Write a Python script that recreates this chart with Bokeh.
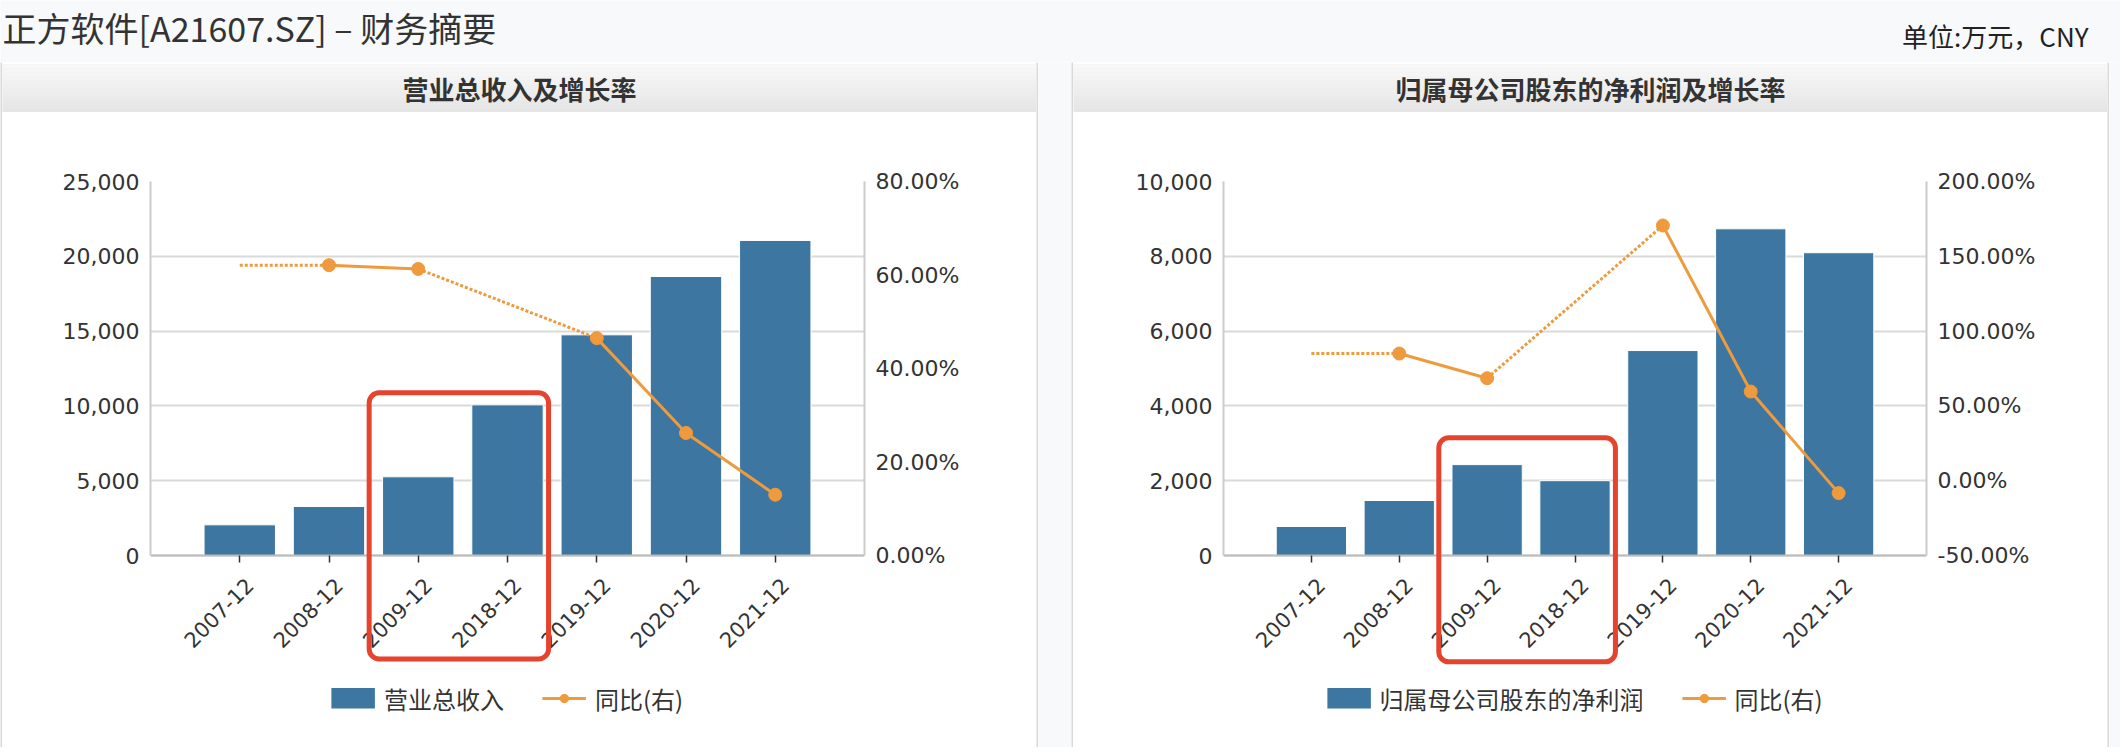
import math
from bokeh.plotting import figure
from bokeh.models import (Range1d, LinearAxis, FixedTicker, NumeralTickFormatter,
                          PrintfTickFormatter, Legend, LegendItem, Label, BoxAnnotation,
                          ColumnDataSource)
from bokeh.layouts import column, row
from bokeh.embed import file_html
from bokeh.resources import INLINE

# ---------------- data ----------------
page_title = "正方软件[A21607.SZ] – 财务摘要"
unit_text = "单位:万元，CNY"
periods = ["2007-12", "2008-12", "2009-12", "2018-12", "2019-12", "2020-12", "2021-12"]

revenue_title = "营业总收入及增长率"
revenue_name = "营业总收入"
revenue = [2050, 3275, 5260, 10070, 14750, 18650, 21060]
revenue_yoy = [None, 62.1, 61.3, None, 46.5, 26.2, 13.0]

profit_title = "归属母公司股东的净利润及增长率"
profit_name = "归属母公司股东的净利润"
profit = [775, 1470, 2430, 2000, 5480, 8735, 8095]
profit_yoy = [None, 85.0, 68.5, None, 170.6, 59.6, -8.3]

yoy_name = "同比(右)"
highlight = ["2009-12", "2018-12"]

# ---------------- style ----------------
PAGE_BG = "#f8f9fb"
BORDER = "#d9d9d9"
HEAD_TOP = (248, 248, 248)
HEAD_BOTTOM = (229, 229, 229)
BAR = "#3d76a1"
ORANGE = "#ee9a3d"
RED = "#e5432d"
TXT = "#333333"
AXFONT = "DejaVu Sans"
CJK = "Noto Sans CJK SC"
PANEL_W = 1034
HEAD_H = 48
TOP_H = 62
MB_TOP = 67
ZERO_H = 374      # px between the top gridline and the zero line
EXT = 113         # px of plot area kept below the zero line for the tick labels
CHART_H = MB_TOP + ZERO_H + EXT
LEG_H = 60
LEG_PAD = 17
PANEL_H = 2 + HEAD_H + 2 + CHART_H + LEG_H + LEG_PAD + 2
LABEL_SHIFT = 0.11  # category fraction the rotated tick labels sit right of their tick


def base_fig(w, h, color, **kw):
    f = figure(width=w, height=h, x_range=Range1d(0, 1), y_range=Range1d(0, 1),
               output_backend="svg", toolbar_location=None, tools="", min_border=0,
               x_axis_location=None, y_axis_location=None,
               background_fill_color=color, border_fill_color=color,
               outline_line_color=None, **kw)
    f.grid.visible = False
    return f


def make_header(text):
    mid = "#%02x%02x%02x" % tuple((a + b) // 2 for a, b in zip(HEAD_TOP, HEAD_BOTTOM))
    h = base_fig(PANEL_W, HEAD_H, mid)
    h.x_range = Range1d(0, PANEL_W)
    h.y_range = Range1d(0, HEAD_H)
    bands = 12
    for k in range(bands):
        t = k / (bands - 1)
        c = tuple(round(a + (b - a) * t) for a, b in zip(HEAD_TOP, HEAD_BOTTOM))
        h.add_layout(BoxAnnotation(top=HEAD_H - k * HEAD_H / bands,
                                   bottom=HEAD_H - (k + 1) * HEAD_H / bands,
                                   fill_color="#%02x%02x%02x" % c, fill_alpha=1,
                                   line_color=None, level="underlay"))
    h.add_layout(Label(x=PANEL_W / 2, y=HEAD_H / 2, text=text, text_align="center",
                       text_baseline="middle", text_font=CJK, text_font_size="26px",
                       text_font_style="bold", text_color=TXT))
    return row(h)


def yoy_segments(yoy):
    valid = [i for i, v in enumerate(yoy) if v is not None]
    sx, sy, dx, dy = [], [], [], []
    if valid[0] > 0:
        dx.append([valid[0] - 1, valid[0]])
        dy.append([yoy[valid[0]], yoy[valid[0]]])
    for a, b in zip(valid[:-1], valid[1:]):
        if b == a + 1:
            sx.append([a, b]); sy.append([yoy[a], yoy[b]])
        else:
            dx.append([a, b]); dy.append([yoy[a], yoy[b]])
    return valid, sx, sy, dx, dy


def make_chart(bars, yoy, y_end, y_step, r_start, r_end, r_step, lb, rb, box_top, box_bottom):
    n = len(periods)
    idx = list(range(n))
    y_start = -y_end * EXT / ZERO_H
    r_low = r_start - (r_end - r_start) * EXT / ZERO_H
    p = figure(width=PANEL_W, height=CHART_H, x_range=Range1d(-1, n),
               y_range=Range1d(y_start, y_end),
               output_backend="svg", toolbar_location=None, tools="",
               min_border_left=lb, min_border_right=rb, min_border_top=MB_TOP,
               min_border_bottom=0,
               background_fill_color="white", border_fill_color="white",
               outline_line_color=None)
    p.extra_y_ranges = {"pct": Range1d(r_low, r_end)}
    p.extra_x_ranges = {"lbl": Range1d(-1 - LABEL_SHIFT, n - LABEL_SHIFT)}

    ticks = list(range(0, y_end + 1, y_step))
    p.xgrid.visible = False
    p.ygrid.ticker = FixedTicker(ticks=ticks)
    p.ygrid.grid_line_color = "#dadada"
    p.ygrid.grid_line_width = 2

    src = ColumnDataSource(dict(x=idx, top=bars))
    p.vbar(x="x", top="top", bottom=0, width=0.8, source=src, fill_color=BAR,
           line_color="white", line_width=1)

    valid, sx, sy, dx, dy = yoy_segments(yoy)
    p.multi_line(xs=dx, ys=dy, y_range_name="pct", line_color=ORANGE, line_width=3,
                 line_dash="3 2")
    p.multi_line(xs=sx, ys=sy, y_range_name="pct", line_color=ORANGE, line_width=3)
    p.scatter(x=valid, y=[yoy[i] for i in valid], y_range_name="pct", size=13,
              fill_color=ORANGE, line_color=ORANGE)

    ya = p.yaxis[0]
    ya.ticker = FixedTicker(ticks=ticks)
    ya.formatter = NumeralTickFormatter(format="0,0")
    ya.bounds = (0, y_end)

    rticks = []
    t = r_start
    while t <= r_end:
        rticks.append(t)
        t += r_step
    ra = LinearAxis(y_range_name="pct", ticker=FixedTicker(ticks=rticks),
                    formatter=PrintfTickFormatter(format="%.2f%%"), bounds=(r_start, r_end))
    p.add_layout(ra, "right")

    for ax in (ya, ra):
        ax.axis_line_color = "#cccccc"
        ax.axis_line_width = 2
        ax.major_tick_line_color = None
        ax.minor_tick_line_color = None
        ax.major_label_text_font = AXFONT
        ax.major_label_text_font_size = "22px"
        ax.major_label_text_color = TXT
        ax.major_label_standoff = 5

    # x axis: line and tick marks
    xa = p.xaxis[0]
    xa.fixed_location = 0
    xa.ticker = FixedTicker(ticks=idx)
    xa.major_label_overrides = {i: "" for i in idx}
    xa.axis_line_color = "#bbbbbb"
    xa.axis_line_width = 2
    xa.major_tick_line_color = TXT
    xa.major_tick_line_width = 1.5
    xa.major_tick_in = 0
    xa.major_tick_out = 7
    xa.minor_tick_line_color = None

    # x axis: rotated period labels
    xl = LinearAxis(x_range_name="lbl", fixed_location=0, ticker=FixedTicker(ticks=idx))
    xl.major_label_overrides = {i: periods[i] for i in idx}
    xl.major_label_orientation = math.pi / 4
    xl.axis_line_color = None
    xl.major_tick_line_color = None
    xl.minor_tick_line_color = None
    xl.major_tick_out = 0
    xl.major_label_text_font = AXFONT
    xl.major_label_text_font_size = "21px"
    xl.major_label_text_color = TXT
    xl.major_label_standoff = 26
    p.add_layout(xl, "below")

    # highlight frame around the selected periods (reaches down over the tick labels)
    hi = [periods.index(c) for c in highlight]
    p.add_layout(BoxAnnotation(left=min(hi) - 0.55, right=max(hi) + 0.46,
                               top=box_top, bottom=box_bottom,
                               fill_alpha=0, line_color=RED, line_alpha=1, line_width=5,
                               border_radius=10, level="overlay"))
    return p


def make_legend(bar_name, lb, rb):
    off = rb - lb  # centre the legend under the plot area rather than the panel
    f = base_fig(PANEL_W - off, LEG_H, "white")
    # legend sample glyphs (placed outside the visible range; only their legend entries show)
    b = f.multi_line(xs=[[-5, -4]], ys=[[0, 0]], line_color=BAR, line_width=21,
                     line_cap="butt")
    l = f.multi_line(xs=[[-5, -4]], ys=[[0, 0]], line_color=ORANGE, line_width=3)
    m = f.scatter(x=[-5], y=[0], size=8, fill_color=ORANGE, line_color=ORANGE)
    legend = Legend(items=[LegendItem(label=bar_name, renderers=[b]),
                           LegendItem(label=yoy_name, renderers=[l, m])],
                    orientation="horizontal", location="center",
                    label_text_font=CJK, label_text_font_size="24px", label_text_color=TXT,
                    glyph_width=44, glyph_height=21, label_standoff=9, spacing=38,
                    padding=0, margin=0, border_line_color=None,
                    background_fill_alpha=0)
    f.add_layout(legend)
    return column(row(f, base_fig(off, LEG_H, "white")),
                  base_fig(PANEL_W, LEG_PAD, "white"), spacing=0)


def panel(header_text, chart, legend_block):
    inner = column(base_fig(PANEL_W, 2, BORDER), make_header(header_text),
                   base_fig(PANEL_W, 2, "#d4d4d4"), chart, legend_block,
                   base_fig(PANEL_W, 2, BORDER), spacing=0)
    return row(base_fig(2, PANEL_H, BORDER), inner, base_fig(2, PANEL_H, BORDER), spacing=0)


left_chart = make_chart(revenue, revenue_yoy, 25000, 5000, 0, 80, 20, 148, 172, 10876, -6911)
right_chart = make_chart(profit, profit_yoy, 10000, 2000, -50, 200, 50, 150, 181, 3147, -2842)
left_leg = make_legend(revenue_name, 148, 172)
right_leg = make_legend(profit_name, 150, 181)

top = base_fig(2120, TOP_H, PAGE_BG)
top.x_range = Range1d(0, 2120)
top.y_range = Range1d(TOP_H, 0)
top.add_layout(Label(x=2, y=27, text=page_title, text_baseline="middle", text_font=CJK,
                     text_font_size="34px", text_color=TXT))
top.add_layout(Label(x=2088, y=35, text=unit_text, text_align="right", text_baseline="middle",
                     text_font=CJK, text_font_size="26px", text_color="#222222"))

layout = column(top,
                row(panel(revenue_title, left_chart, left_leg),
                    base_fig(33, PANEL_H, PAGE_BG),
                    panel(profit_title, right_chart, right_leg),
                    base_fig(11, PANEL_H, PAGE_BG), spacing=0),
                spacing=0)

open("out.html", "w").write(file_html(layout, INLINE, title="财务摘要"))
